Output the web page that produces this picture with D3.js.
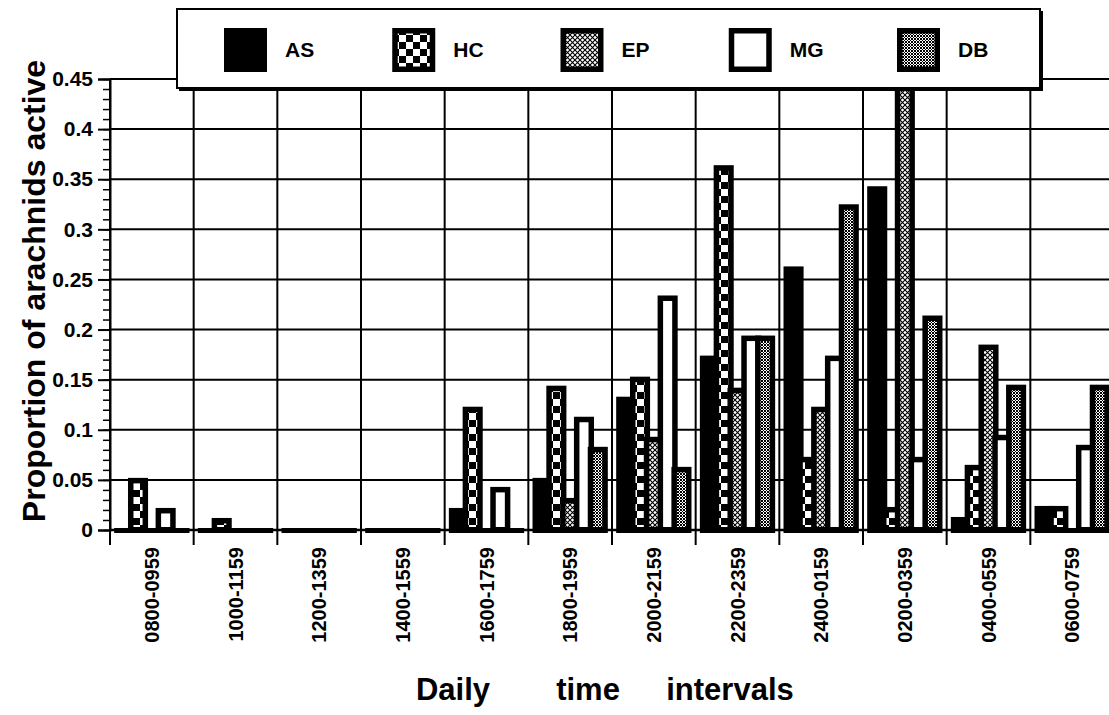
<!DOCTYPE html>
<html>
<head>
<meta charset="utf-8">
<script src="https://cdn.jsdelivr.net/npm/d3@7"></script>
<style>
  body { margin: 0; background: #fff; }
  text { font-family: "Liberation Sans", Arial, Helvetica, sans-serif; font-weight: bold; fill: #000; }
</style>
</head>
<body>
<script>
// data
var categories = ["0800-0959", "1000-1159", "1200-1359", "1400-1559", "1600-1759", "1800-1959",
                  "2000-2159", "2200-2359", "2400-0159", "0200-0359", "0400-0559", "0600-0759"];
var seriesNames = ["AS", "HC", "EP", "MG", "DB"];
var AS = [0.001, 0, 0, 0, 0.022, 0.052, 0.133, 0.174, 0.263, 0.343, 0.013, 0.024];
var HC = [0.052, 0.012, 0.002, 0.001, 0.123, 0.144, 0.153, 0.364, 0.073, 0.023, 0.065, 0.024];
var EP = [0, 0, 0.002, 0.001, 0, 0.032, 0.093, 0.142, 0.123, 0.47, 0.185, 0];
var MG = [0.022, 0, 0.002, 0.001, 0.043, 0.113, 0.234, 0.194, 0.174, 0.073, 0.095, 0.085];
var DB = [0, 0, 0.002, 0.001, 0, 0.083, 0.063, 0.194, 0.325, 0.214, 0.145, 0.145];
var yTicks = [0, 0.05, 0.1, 0.15, 0.2, 0.25, 0.3, 0.35, 0.4, 0.45];
var values = { AS: AS, HC: HC, EP: EP, MG: MG, DB: DB };

var W = 1109, H = 715;
// plot box (right edge runs past the picture, as in the scan)
var pLeft = 110, pRight = 1114, pTop = 79, pBottom = 530;

var svg = d3.select("body").append("svg")
    .attr("width", W)
    .attr("height", H);

// fill patterns
var defs = svg.append("defs");
var hc = defs.append("pattern").attr("id", "pat-HC")
    .attr("patternUnits", "userSpaceOnUse").attr("width", 14).attr("height", 14);
hc.append("rect").attr("width", 14).attr("height", 14).attr("fill", "#000");
hc.append("rect").attr("width", 7).attr("height", 7).attr("fill", "#fff");
hc.append("rect").attr("x", 7).attr("y", 7).attr("width", 7).attr("height", 7).attr("fill", "#fff");

var ep = defs.append("pattern").attr("id", "pat-EP")
    .attr("patternUnits", "userSpaceOnUse").attr("width", 5).attr("height", 5);
ep.append("rect").attr("width", 5).attr("height", 5).attr("fill", "#fff");
ep.append("path").attr("d", "M0,0L5,5M5,0L0,5")
    .attr("stroke", "#000").attr("stroke-width", 1.1);

var db = defs.append("pattern").attr("id", "pat-DB")
    .attr("patternUnits", "userSpaceOnUse").attr("width", 3).attr("height", 3);
db.append("rect").attr("width", 3).attr("height", 3).attr("fill", "#fff");
db.append("path").attr("d", "M0,0L3,3M3,0L0,3")
    .attr("stroke", "#000").attr("stroke-width", 1);

var fills = { AS: "#000", HC: "url(#pat-HC)", EP: "url(#pat-EP)", MG: "#fff", DB: "url(#pat-DB)" };

// scales
var x = d3.scaleBand().domain(categories).range([pLeft, pRight]).padding(0);
var bw = x.bandwidth();
var barW = bw * 0.24;
var xSub = d3.scalePoint().domain(seriesNames).range([bw * 0.05, bw * 0.95 - barW]);
var y = d3.scaleLinear().domain([0, 0.45]).range([pBottom, pTop]);

// grid
var grid = svg.append("g");
grid.selectAll(".hline")
    .data(yTicks)
    .enter().append("line")
    .attr("x1", pLeft).attr("x2", pRight)
    .attr("y1", function(d) { return y(d); })
    .attr("y2", function(d) { return y(d); })
    .attr("stroke", "#000")
    .attr("stroke-width", function(d) { return d === 0 ? 2.5 : 2; });

var bounds = categories.map(function(c) { return x(c); }).concat([pRight]);
grid.selectAll(".vline")
    .data(bounds)
    .enter().append("line")
    .attr("x1", function(d) { return d; })
    .attr("x2", function(d) { return d; })
    .attr("y1", pTop).attr("y2", pBottom + 15)
    .attr("stroke", "#000")
    .attr("stroke-width", 2);

// y axis: minor + major ticks
svg.append("g")
    .attr("transform", "translate(" + pLeft + ",0)")
    .call(d3.axisLeft(y).tickValues(d3.range(0, 0.4501, 0.01)).tickSize(7).tickFormat(""))
    .call(function(g) { g.select(".domain").remove(); })
    .selectAll("line").attr("stroke", "#000").attr("stroke-width", 1.5);

var yAx = svg.append("g")
    .attr("transform", "translate(" + pLeft + ",0)")
    .call(d3.axisLeft(y).tickValues(yTicks).tickSize(12).tickPadding(5).tickFormat(d3.format("~g")));
yAx.select(".domain").attr("stroke", "#000").attr("stroke-width", 2);
yAx.selectAll(".tick line").attr("stroke", "#000").attr("stroke-width", 2);
yAx.selectAll("text")
    .style("font-size", "21px")
    .style("font-family", "'Liberation Sans', Arial, sans-serif")
    .style("font-weight", "bold");

// bars, drawn series by series so later ones overlap earlier ones
var b = 5.5;
categories.forEach(function(c, i) {
    seriesNames.forEach(function(s) {
        var v = values[s][i];
        var x0 = x(c) + xSub(s);
        var yv = Math.min(y(v), pBottom - 2);
        svg.append("rect")
            .attr("x", x0).attr("y", yv)
            .attr("width", barW).attr("height", pBottom + 3 - yv)
            .attr("fill", "#000");
        var ih = pBottom - 3 - (yv + b);
        if (ih > 0 && s !== "AS") {
            svg.append("rect")
                .attr("x", x0 + b).attr("y", yv + b)
                .attr("width", barW - 2 * b).attr("height", ih)
                .attr("fill", fills[s]);
        }
    });
});

// x tick labels
svg.append("g")
    .selectAll("text")
    .data(categories)
    .enter().append("text")
    .attr("transform", function(d) { return "translate(" + (x(d) + bw / 2) + "," + (pBottom + 17) + ") rotate(-90)"; })
    .attr("dy", "0.36em")
    .attr("text-anchor", "end")
    .style("font-size", "20px")
    .text(function(d) { return d; });

// axis titles
svg.append("text")
    .attr("transform", "translate(45,291) rotate(-90)")
    .attr("text-anchor", "middle")
    .style("font-size", "32px")
    .text("Proportion of arachnids active");

var xTitle = svg.append("g").attr("transform", "translate(0,700)");
[["Daily", 453], ["time", 588], ["intervals", 730]].forEach(function(w) {
    xTitle.append("text")
        .attr("x", w[1])
        .attr("text-anchor", "middle")
        .style("font-size", "31px")
        .text(w[0]);
});

// legend
var lg = svg.append("g");
lg.append("rect").attr("x", 179).attr("y", 11).attr("width", 864).attr("height", 80).attr("fill", "#000");
lg.append("rect").attr("x", 177).attr("y", 9).attr("width", 863).attr("height", 79)
    .attr("fill", "#fff").attr("stroke", "#000").attr("stroke-width", 2);

var legendX = d3.scalePoint().domain(seriesNames).range([224, 897]);
seriesNames.forEach(function(s) {
    var lx = legendX(s);
    lg.append("rect").attr("x", lx).attr("y", 28).attr("width", 43).attr("height", 44).attr("fill", "#000");
    if (s !== "AS") {
        lg.append("rect").attr("x", lx + 5.5).attr("y", 33.5).attr("width", 32).attr("height", 33)
            .attr("fill", fills[s]);
    }
    lg.append("text")
        .attr("x", lx + 61).attr("y", 57)
        .style("font-size", "21px")
        .text(s);
});
</script>
</body>
</html>
